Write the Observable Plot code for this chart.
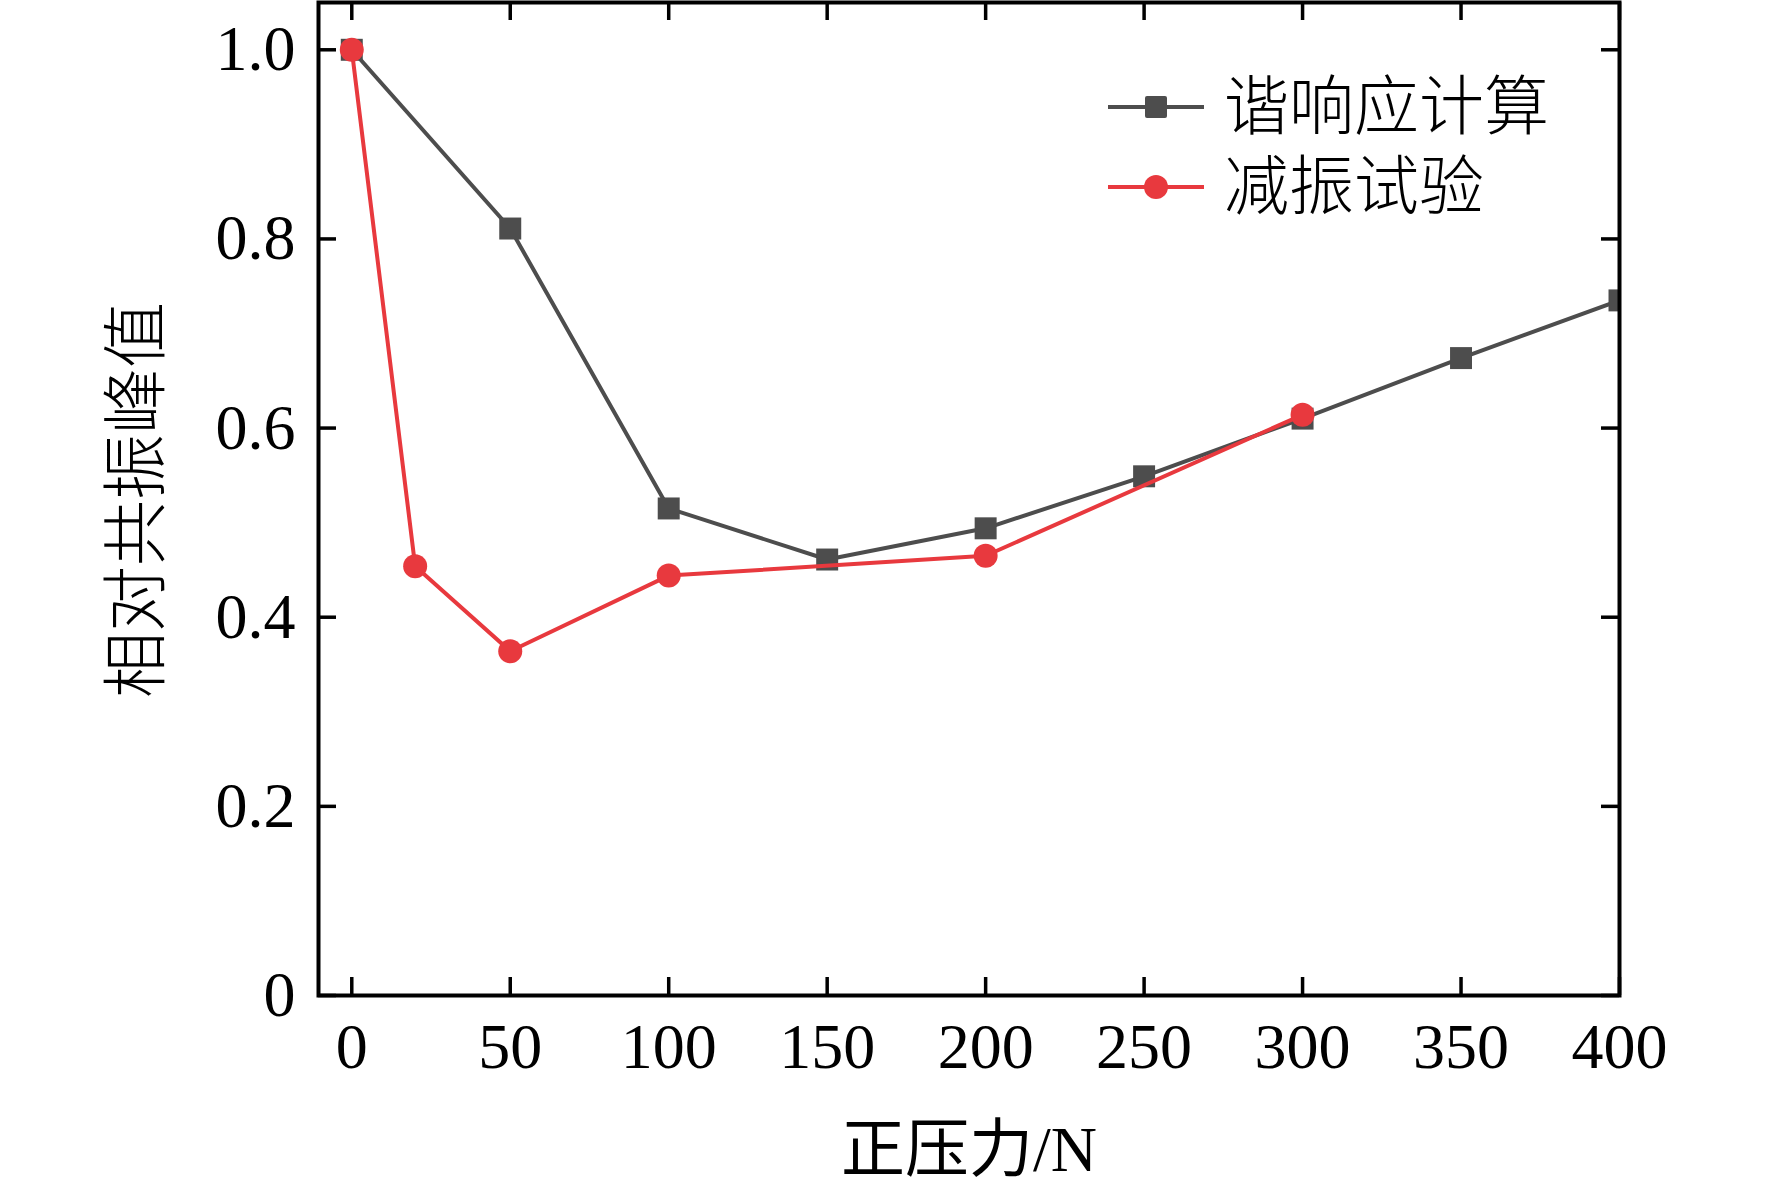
<!DOCTYPE html>
<html>
<head>
<meta charset="utf-8">
<script src="https://cdn.jsdelivr.net/npm/d3@7"></script>
<script src="https://cdn.jsdelivr.net/npm/@observablehq/plot@0.6"></script>
<style>
  body { margin: 0; background: #fff; }
  #wrap { position: relative; width: 1772px; height: 1189px; overflow: hidden; }
  .legend { position: absolute; left: 1108px; top: 67px; font-family: "Liberation Serif", "Noto Sans CJK SC", serif; font-weight: 300; font-size: 65px; color: #000; }
  .legend .row { display: flex; align-items: center; height: 80px; }
  .legend .row svg { margin-right: 20px; flex: none; }
  .legend .row span { line-height: 1; white-space: nowrap; }
</style>
</head>
<body>
<div id="wrap"></div>
<script>
// ---- data ----
const xTicks = [0, 50, 100, 150, 200, 250, 300, 350, 400];
const yTicks = [0, 0.2, 0.4, 0.6, 0.8, 1.0];
const yTickLabels = ["0", "0.2", "0.4", "0.6", "0.8", "1.0"];

const harmForce = [0, 50, 100, 150, 200, 250, 300, 350, 400];
const harmValue = [1.0, 0.811, 0.515, 0.461, 0.494, 0.549, 0.610, 0.674, 0.735];

const testForce = [0, 20, 50, 100, 200, 300];
const testValue = [1.0, 0.454, 0.364, 0.444, 0.465, 0.614];

const seriesNames = ["谐响应计算", "减振试验"];
const seriesColors = ["#4d4d4d", "#e8393e"];
const seriesSymbols = ["square", "circle"];

const xLabel = "正压力/N";
const yLabel = "相对共振峰值";

// ---- layout ----
const W = 1772, H = 1189;
const mL = 318, mR = 153, mT = 2, mB = 194;
const innerW = W - mL - mR, innerH = H - mT - mB;
const tickLen = 18;
const serif = '"Liberation Serif", "Times New Roman", serif';
const mixed = '"Liberation Serif", "Noto Sans CJK SC", serif';

const harm = harmForce.map((x, i) => ({x, y: harmValue[i]}));
const test = testForce.map((x, i) => ({x, y: testValue[i]}));

const chart = Plot.plot({
  width: W,
  height: H,
  marginLeft: mL,
  marginRight: mR,
  marginTop: mT,
  marginBottom: mB,
  style: {background: "#fff", overflow: "visible"},
  x: {domain: [-10.5, 400]},
  y: {domain: [0, 1.05]},
  marks: [
    Plot.line(harm, {x: "x", y: "y", stroke: seriesColors[0], strokeWidth: 4, clip: true}),
    Plot.dot(harm, {x: "x", y: "y", symbol: seriesSymbols[0], r: 12.4, fill: seriesColors[0], stroke: "none", clip: true}),
    Plot.line(test, {x: "x", y: "y", stroke: seriesColors[1], strokeWidth: 4, clip: true}),
    Plot.dot(test, {x: "x", y: "y", symbol: seriesSymbols[1], r: 12, fill: seriesColors[1], stroke: "none", clip: true}),
    // inward ticks on all four sides
    Plot.tickX(xTicks, {x: d => d, insetTop: innerH - tickLen, stroke: "#000", strokeWidth: 3.5}),
    Plot.tickX(xTicks, {x: d => d, insetBottom: innerH - tickLen, stroke: "#000", strokeWidth: 3.5}),
    Plot.tickY(yTicks, {y: d => d, insetRight: innerW - tickLen, stroke: "#000", strokeWidth: 3.5}),
    Plot.tickY(yTicks, {y: d => d, insetLeft: innerW - tickLen, stroke: "#000", strokeWidth: 3.5}),
    Plot.frame({stroke: "#000", strokeWidth: 4}),
    Plot.axisX(xTicks, {tickSize: 0, tickPadding: 27, fontSize: 64, fontFamily: serif, label: null, tickFormat: d => String(d)}),
    Plot.axisY(yTicks, {tickSize: 0, tickPadding: 23, fontSize: 64, fontFamily: serif, label: null,
      tickFormat: d => yTickLabels[yTicks.indexOf(d)]}),
    Plot.text([xLabel], {text: d => d, frameAnchor: "bottom", dy: 175, lineAnchor: "bottom", textAnchor: "middle",
      fontSize: 64, fontFamily: mixed, fill: "#000"}),
    Plot.text([yLabel], {text: d => d, frameAnchor: "left", rotate: -90, dx: -181, dy: 1, lineAnchor: "middle",
      textAnchor: "middle", fontSize: 66, fontFamily: '"Noto Sans CJK SC", sans-serif', fontWeight: 300, fill: "#000"})
  ]
});

const wrap = document.getElementById("wrap");
wrap.appendChild(chart);

// legend
const legend = document.createElement("div");
legend.className = "legend";
seriesNames.forEach((name, i) => {
  const row = document.createElement("div");
  row.className = "row";
  const svg = d3.create("svg").attr("width", 96).attr("height", 30);
  svg.append("line").attr("x1", 0).attr("x2", 96).attr("y1", 15).attr("y2", 15)
    .attr("stroke", seriesColors[i]).attr("stroke-width", 4);
  if (seriesSymbols[i] === "square") {
    svg.append("rect").attr("x", 48 - 11).attr("y", 15 - 11).attr("width", 22).attr("height", 22)
      .attr("rx", 2).attr("fill", seriesColors[i]);
  } else {
    svg.append("circle").attr("cx", 48).attr("cy", 15).attr("r", 12).attr("fill", seriesColors[i]);
  }
  row.appendChild(svg.node());
  const span = document.createElement("span");
  span.textContent = name;
  row.appendChild(span);
  legend.appendChild(row);
});
wrap.appendChild(legend);
</script>
</body>
</html>
